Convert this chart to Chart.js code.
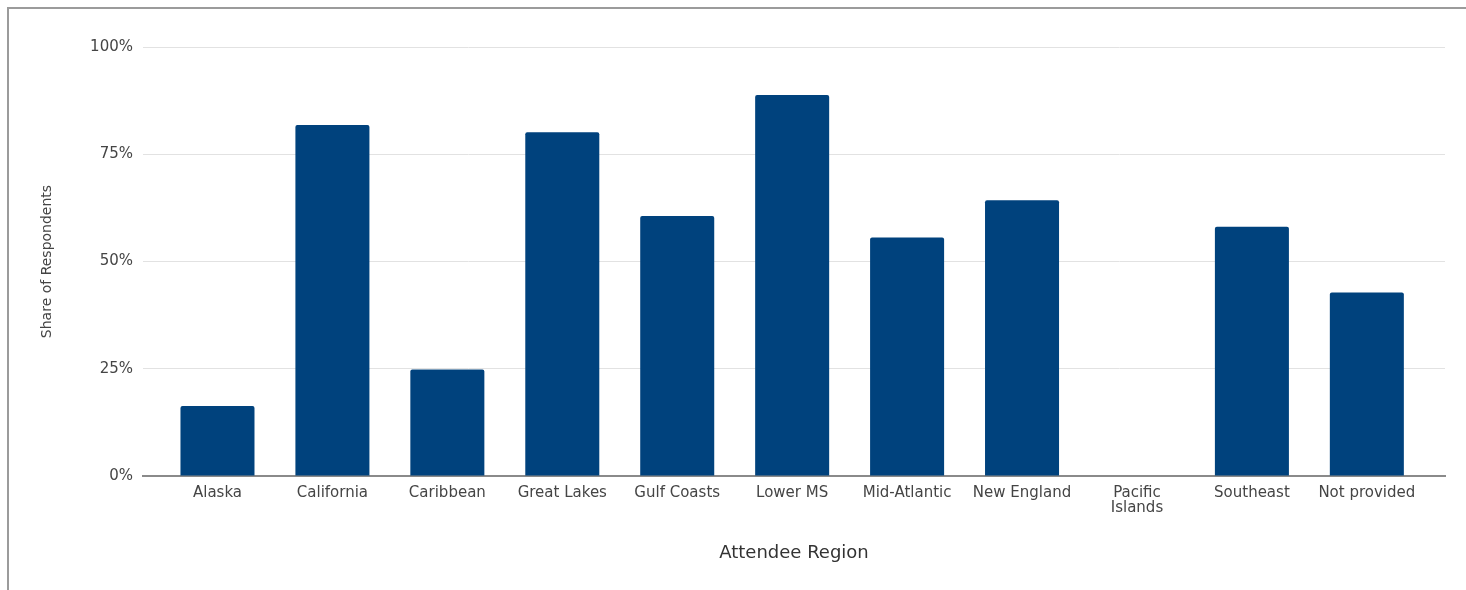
<!DOCTYPE html>
<html>
<head>
<meta charset="utf-8">
<title>Attendee Region</title>
<script src="https://cdn.jsdelivr.net/npm/chart.js@4"></script>
<style>
  html, body { margin: 0; padding: 0; background: #fff; }
  #frame {
    position: absolute; left: 7px; top: 7px; right: 0; bottom: 0;
    border-top: 2px solid #9b9b9b; border-left: 2px solid #9b9b9b;
  }
  #wrap { position: absolute; left: 0; top: 0; width: 1466px; height: 590px; }
</style>
</head>
<body>
<div id="frame"></div>
<div id="wrap"><canvas id="myChart"></canvas></div>
<script>
 // Regions along the x axis (Pacific Islands wraps onto two lines)
 const regions = ['Alaska', 'California', 'Caribbean', 'Great Lakes', 'Gulf Coasts', 'Lower MS',
   'Mid-Atlantic', 'New England', ['Pacific', 'Islands'], 'Southeast', 'Not provided'];

 // Share of respondents per region, in percent
 const shares = [16.3, 81.8, 24.8, 80.1, 60.6, 88.8, 55.6, 64.3, 0, 58.1, 42.8];

 // Y axis ticks
 const yTicks = [0, 25, 50, 75, 100];

 const fontFamily = "'DejaVu Sans', 'Liberation Sans', sans-serif";

 function createChart() {
   const ctx = document.getElementById('myChart').getContext('2d');
   return new Chart(ctx, {
     type: 'bar',
     data: {
       datasets: [{
         label: 'Share of Respondents',
         data: shares.map((v, i) => ({ x: i, y: v })),
         backgroundColor: '#00427d',
         borderRadius: { topLeft: 2, topRight: 2 },
         borderSkipped: 'bottom',
         categoryPercentage: 1,
         barPercentage: 0.644
       }]
     },
     options: {
       responsive: true,
       maintainAspectRatio: false,
       animation: false,
       layout: { padding: { left: 30, right: 21, top: 47, bottom: 0 } },
       plugins: {
         legend: { display: false },
         tooltip: { enabled: false }
       },
       scales: {
         x: {
           // linear index axis so the categories sit inside a slightly wider plot area
           type: 'linear',
           offset: false,
           min: -0.648,
           max: 10.68,
           afterFit: (s) => { s.height = 114; },
           grid: { display: false, drawTicks: false, offset: false },
           border: { display: true, color: '#8a8a8a', width: 2 },
           ticks: {
             stepSize: 1,
             includeBounds: false,
             autoSkip: false,
             maxRotation: 0,
             padding: 10,
             color: '#454545',
             font: { family: fontFamily, size: 15, lineHeight: 1 },
             callback: (v) => Number.isInteger(v) ? regions[v] : ''
           },
           title: {
             display: true,
             text: 'Attendee Region',
             color: '#333',
             padding: 26,
             font: { family: fontFamily, size: 18 }
           }
         },
         y: {
           min: 0,
           max: 100,
           afterFit: (s) => { s.width = 113; },
           afterBuildTicks: (s) => { s.ticks = yTicks.map(v => ({ value: v })); },
           grid: {
             drawTicks: false,
             color: (c) => c.tick && c.tick.value === 0 ? 'rgba(0,0,0,0)' : '#e2e2e2'
           },
           border: { display: false },
           ticks: {
             padding: 10,
             color: '#454545',
             font: { family: fontFamily, size: 15 },
             callback: (v) => v + '%'
           },
           title: {
             display: true,
             text: 'Share of Respondents',
             color: '#444',
             padding: 9,
             font: { family: fontFamily, size: 14 }
           }
         }
       }
     }
   });
 }

 let myChart = createChart();
</script>
</body>
</html>
